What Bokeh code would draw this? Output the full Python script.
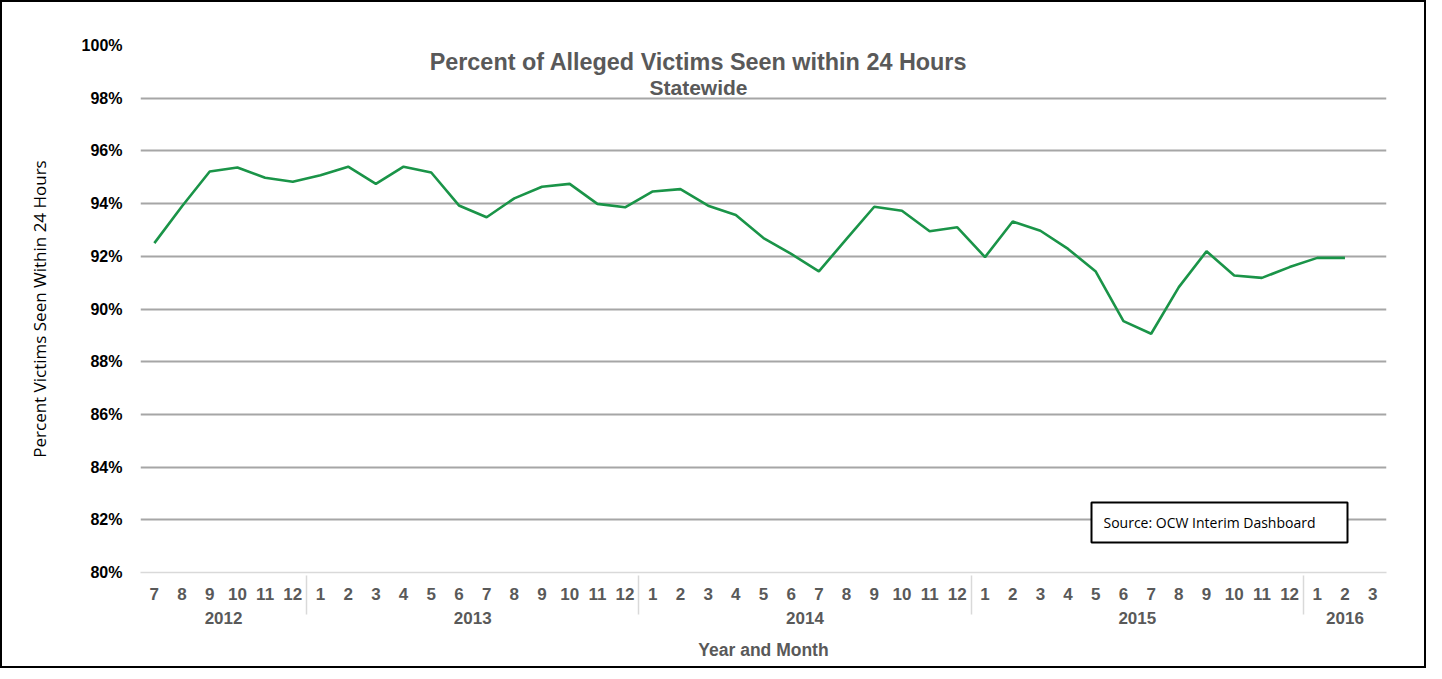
from bokeh.plotting import figure
from bokeh.models import (FactorRange, ColumnDataSource, Label, BoxAnnotation,
                          FixedTicker, PrintfTickFormatter, Range1d, InlineStyleSheet)
from bokeh.embed import file_html
from bokeh.resources import INLINE

years = ["2012"] * 6 + ["2013"] * 12 + ["2014"] * 12 + ["2015"] * 12 + ["2016"] * 3
months = ([str(m) for m in range(7, 13)] + [str(m) for m in range(1, 13)] * 3
          + ["1", "2", "3"])
values = [92.5, 93.9, 95.22, 95.37, 94.98, 94.83,
          95.08, 95.40, 94.75, 95.40, 95.18, 93.93, 93.48, 94.20, 94.64, 94.75, 93.99, 93.86,
          94.46, 94.55, 93.92, 93.57, 92.69, 92.09, 91.43, 92.66, 93.88, 93.73, 92.95, 93.10,
          91.97, 93.32, 92.97, 92.28, 91.42, 89.54, 89.06, 90.83, 92.19, 91.27, 91.18, 91.59,
          91.94, 91.94]
y_ticks = [80, 82, 84, 86, 88, 90, 92, 94, 96, 98, 100]

factors = list(zip(years, months))
xr = FactorRange(*factors, factor_padding=0, group_padding=0, subgroup_padding=0,
                 range_padding=0)

FONT = "Liberation Sans"
GRAY = "#595959"

p = figure(x_range=xr, y_range=Range1d(80, 100), width=1426, height=668,
           output_backend="svg", toolbar_location=None,
           min_border_left=140, min_border_top=45, min_border_right=40,
           min_border_bottom=96)
p.outline_line_color = None
p.border_fill_alpha = 0
p.stylesheets = [InlineStyleSheet(css=":host { box-shadow: inset 0 0 0 2px black; "
                                      "background-color: white; }")]

src = ColumnDataSource(dict(x=factors[:len(values)], y=values))
p.line("x", "y", source=src, line_color="#1a9448", line_width=2.6)

# y axis
p.yaxis.ticker = FixedTicker(ticks=y_ticks)
p.yaxis.formatter = PrintfTickFormatter(format="%d%%")
p.yaxis.axis_line_color = None
p.yaxis.major_tick_line_color = None
p.yaxis.minor_tick_line_color = None
p.yaxis.major_label_text_font = FONT
p.yaxis.major_label_text_font_style = "bold"
p.yaxis.major_label_text_font_size = "16px"
p.yaxis.major_label_text_color = "black"
p.yaxis.major_label_standoff = 12
p.yaxis.axis_label = "Percent Victims Seen Within 24 Hours"
p.yaxis.axis_label_text_font = "Open Sans"
p.yaxis.axis_label_text_font_style = "normal"
p.yaxis.axis_label_text_font_size = "17px"
p.yaxis.axis_label_text_color = "black"
p.yaxis.axis_label_standoff = 28

p.ygrid.ticker = FixedTicker(ticks=y_ticks[1:])
p.ygrid.grid_line_color = "#a6a6a6"
p.ygrid.grid_line_width = 2
p.xgrid.grid_line_color = None

# x axis
xa = p.xaxis[0]
xa.axis_line_color = "#d9d9d9"
xa.axis_line_width = 1.5
xa.major_tick_line_color = None
xa.minor_tick_line_color = None
xa.major_label_text_font = FONT
xa.major_label_text_font_style = "bold"
xa.major_label_text_font_size = "17px"
xa.major_label_text_color = GRAY
xa.major_label_standoff = 9
xa.group_text_font = FONT
xa.group_text_font_style = "bold"
xa.group_text_font_size = "17px"
xa.group_text_color = GRAY
xa.separator_line_color = "#d9d9d9"
xa.separator_line_width = 1.5
xa.axis_label = "Year and Month"
xa.axis_label_text_font = FONT
xa.axis_label_text_font_style = "bold"
xa.axis_label_text_font_size = "17.5px"
xa.axis_label_text_color = GRAY
xa.axis_label_standoff = 13

# titles inside plot
p.add_layout(Label(x=558, y=511, x_units="screen", y_units="screen",
                   text="Percent of Alleged Victims Seen within 24 Hours",
                   text_align="center", text_baseline="middle",
                   text_font=FONT, text_font_style="bold", text_font_size="23.4px",
                   text_color=GRAY))
p.add_layout(Label(x=558, y=485, x_units="screen", y_units="screen",
                   text="Statewide", text_align="center", text_baseline="middle",
                   text_font=FONT, text_font_style="bold", text_font_size="21px",
                   text_color=GRAY))

# source box
p.add_layout(BoxAnnotation(left=951, right=1207, top=70, bottom=30,
                           left_units="screen", right_units="screen",
                           top_units="screen", bottom_units="screen",
                           fill_color="white", fill_alpha=1,
                           line_color="black", line_width=2, line_alpha=1))
p.add_layout(Label(x=963, y=50, x_units="screen", y_units="screen",
                   text="Source: OCW Interim Dashboard",
                   text_align="left", text_baseline="middle",
                   text_font="Open Sans", text_font_size="14px", text_color="black"))

open("out.html", "w").write(file_html(p, INLINE))
